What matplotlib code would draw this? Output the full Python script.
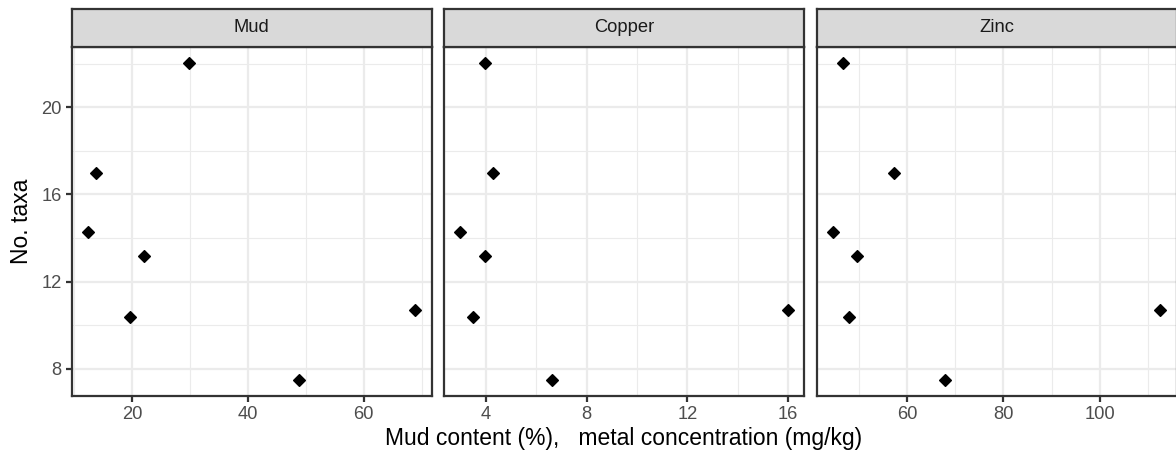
import matplotlib
matplotlib.use("Agg")
import matplotlib.pyplot as plt
from matplotlib.ticker import FixedLocator
import numpy as np

plt.rcParams['font.family'] = ['Liberation Sans', 'DejaVu Sans']

# data
taxa = [22.05, 17.0, 14.3, 13.2, 10.4, 10.7, 7.5]
mud = [29.8, 13.9, 12.45, 22.1, 19.7, 68.9, 48.8]
copper = [3.97, 4.27, 2.98, 3.97, 3.47, 15.98, 6.62]
zinc = [46.6, 57.3, 44.6, 49.5, 48.0, 112.6, 67.8]

panels = ["Mud", "Copper", "Zinc"]
xvals = [mud, copper, zinc]
xmajor = [[20, 40, 60], [4, 8, 12, 16], [60, 80, 100]]
xminor = [[10, 30, 50, 70], [2, 6, 10, 14], [50, 70, 90, 110]]
ymajor = [8, 12, 16, 20]
yminor = [10, 14, 18, 22]

W, H = 1176, 455
fig = plt.figure(figsize=(W / 150, H / 150), dpi=150)

lefts = [71.7, 444.0, 816.7]
pw = 360.0
ptop, pbot, stop = 46.7, 395.7, 9.3

dark = "#333333"
grid = "#EBEBEB"


def expand(v):
    lo, hi = min(v), max(v)
    d = (hi - lo) * 0.05
    return lo - d, hi + d


ylim = expand(taxa)

for i, name in enumerate(panels):
    l = lefts[i]
    ax = fig.add_axes([l / W, 1 - pbot / H, pw / W, (pbot - ptop) / H])
    ax.set_xlim(*expand(xvals[i]))
    ax.set_ylim(*ylim)
    ax.xaxis.set_major_locator(FixedLocator(xmajor[i]))
    ax.xaxis.set_minor_locator(FixedLocator(xminor[i]))
    ax.yaxis.set_major_locator(FixedLocator(ymajor))
    ax.yaxis.set_minor_locator(FixedLocator(yminor))
    ax.grid(which="major", color=grid, lw=1.07)
    ax.grid(which="minor", color=grid, lw=0.53)
    ax.set_axisbelow(True)
    for s in ax.spines.values():
        s.set_color(dark)
        s.set_linewidth(1.07)
    ax.tick_params(which="major", direction="out", length=2.75, width=1.07,
                   color=dark, labelsize=8.8, labelcolor="#4D4D4D", pad=2)
    ax.tick_params(which="minor", length=0)
    if i > 0:
        ax.tick_params(axis="y", which="both", left=False, labelleft=False)
    ax.plot(xvals[i], taxa, "D", color="black", ms=3.8, mec="black", mew=0.6)

    # facet strip
    sx = fig.add_axes([l / W, 1 - ptop / H, pw / W, (ptop - stop) / H])
    sx.set_facecolor("#D9D9D9")
    sx.set_xticks([])
    sx.set_yticks([])
    for s in sx.spines.values():
        s.set_color(dark)
        s.set_linewidth(1.07)
    sx.text(0.5, 0.5, name, ha="center", va="center", fontsize=8.8,
            color="#1A1A1A", transform=sx.transAxes)

fig.text(22 / W, 1 - 221.5 / H, "No. taxa", rotation=90, ha="center",
         va="center", fontsize=11)
fig.text((71.7 + 1176) / 2 / W, 1 - 438 / H,
         "Mud content (%),   metal concentration (mg/kg)",
         ha="center", va="center", fontsize=11)

fig.savefig("out.png", dpi=150, facecolor="white")
